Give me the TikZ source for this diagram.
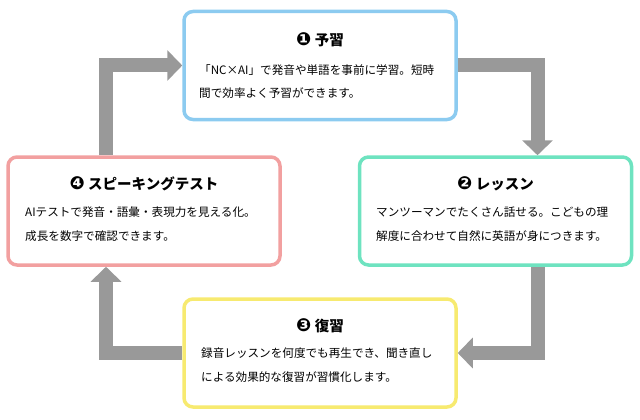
\documentclass[tikz,border=0pt]{standalone}
\usepackage{fontspec}
\setmainfont{Noto Sans CJK JP}
\newfontfamily\dv{DejaVu Sans}
\usetikzlibrary{arrows.meta}
\definecolor{cb}{HTML}{8CCBF0}
\definecolor{cg}{HTML}{6EE3C0}
\definecolor{cy}{HTML}{F7EA70}
\definecolor{cp}{HTML}{F2A0A0}
\definecolor{ag}{HTML}{999999}
\begin{document}
\begin{tikzpicture}[x=1pt,y=-1pt,
 box/.style={draw=#1,line width=3.5pt,rounded corners=9pt,fill=white,minimum width=272pt,minimum height=108pt,inner sep=0pt},
 ttl/.style={font=\fontsize{14.5}{16}\selectfont\bfseries,anchor=center},
 bdy/.style={font=\fontsize{11.6}{23.5}\selectfont,anchor=north west,align=left,inner sep=0pt},
 conn/.style={draw=ag,line width=14pt,line join=miter,-{Triangle[length=15pt,width=30pt]}}]
\useasboundingbox (0,0) rectangle (640,420);
\node[box=cb] (b1) at (320,65.5) {};
\node[box=cg] (b2) at (495.5,211) {};
\node[box=cy] (b3) at (320,353) {};
\node[box=cp] (b4) at (144,211) {};
\path[conn] ([yshift=0]b1.east) -| ([xshift=42]b2.north);
\path[conn] ([xshift=42]b2.south) |- (b3.east);
\path[conn] (b3.west) -| ([xshift=-38]b4.south);
\path[conn] ([xshift=-38]b4.north) |- (b1.west);
\node[ttl] (t1) at (320,40) {{\dv\fontsize{18}{18}\selectfont ❶} 予習};
\node[ttl] (t2) at (495.5,184) {{\dv\fontsize{18}{18}\selectfont ❷} レッスン};
\node[ttl] (t3) at (320,326) {{\dv\fontsize{18}{18}\selectfont ❸} 復習};
\node[ttl] (t4) at (144,184) {{\dv\fontsize{18}{18}\selectfont ❹} スピーキングテスト};
\node[bdy] (x1) at (199,64) {「NC×AI」で発音や単語を事前に学習。短時\\間で効率よく予習ができます。};
\node[bdy] (x2) at (376,207) {マンツーマンでたくさん話せる。こどもの理\\解度に合わせて自然に英語が身につきます。};
\node[bdy] (x3) at (201,348) {録音レッスンを何度でも再生でき、聞き直し\\による効果的な復習が習慣化します。};
\node[bdy] (x4) at (25,207) {AIテストで発音・語彙・表現力を見える化。\\成長を数字で確認できます。};
\end{tikzpicture}
\end{document}
